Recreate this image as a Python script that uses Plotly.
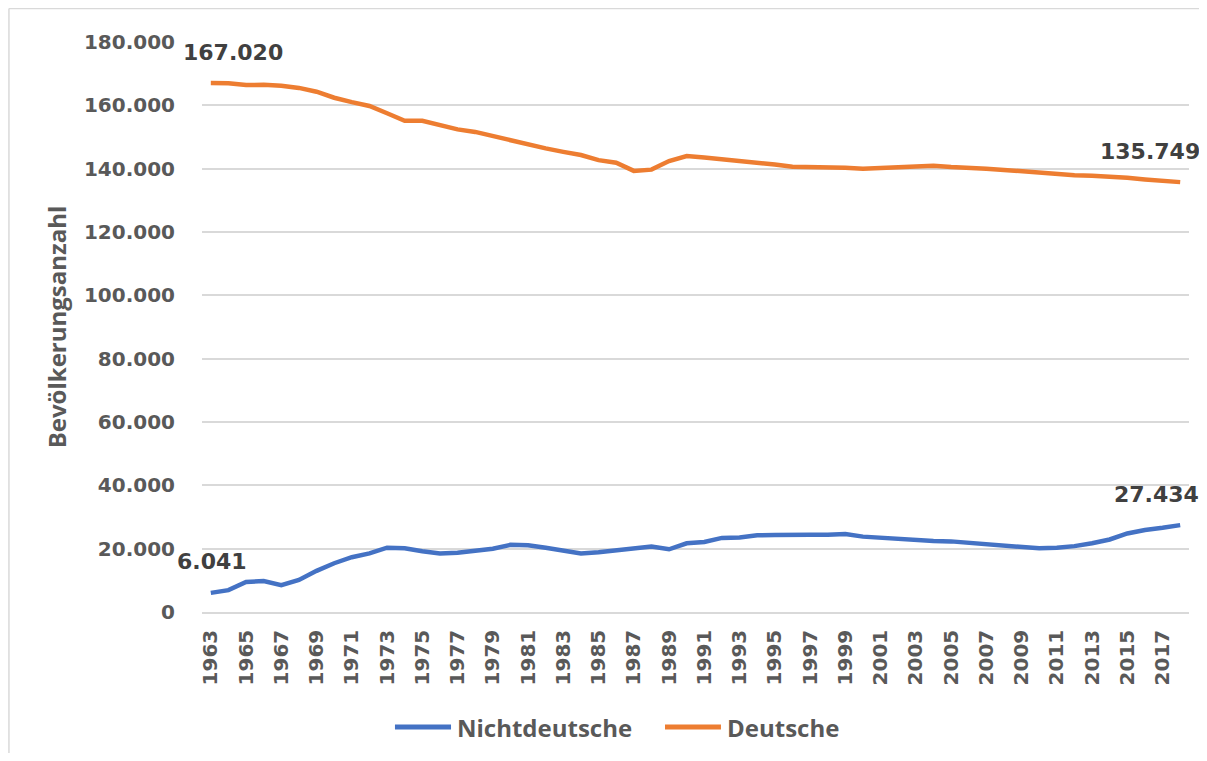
import plotly.graph_objects as go

years = list(range(1963, 2019))

deutsche = [167020, 167000, 166400, 166500, 166200, 165500, 164300, 162400, 161000, 159800,
            157500, 155100, 155100, 153600, 152400, 151600, 150300, 148800, 147700, 146400,
            145300, 144300, 142700, 141900, 139300, 139700, 142400, 144000, 143500, 143000,
            142300, 141700, 141300, 140600, 140600, 140400, 140300, 140000, 140300, 140600,
            140700, 140900, 140500, 140400, 140000, 139600, 139200, 138500, 138200, 137900,
            137800, 137600, 137100, 136600, 136100, 135749]

nichtdeutsche = [6041, 6900, 9500, 9800, 8500, 10100, 13000, 15400, 17300, 18500,
                 20300, 20100, 19200, 18500, 18700, 19200, 20000, 21200, 21100, 20300,
                 19400, 18500, 18900, 19600, 20300, 20700, 19800, 21700, 22100, 23400,
                 23500, 24200, 24300, 24500, 24400, 24400, 24600, 23800, 23400, 23100,
                 22800, 22400, 22300, 21900, 21500, 20900, 20500, 20100, 20300, 20800,
                 21700, 22900, 24800, 25900, 26600, 27434]

series_names = ["Nichtdeutsche", "Deutsche"]
y_ticks = list(range(0, 180001, 20000))
x_ticks = list(range(1963, 2018, 2))

BLUE = "#4472C4"
ORANGE = "#ED7D31"
GRAY = "#595959"
DARK = "#404040"
GRID = "#D9D9D9"
TICKFONT = dict(family="DejaVu Sans", size=20, color=GRAY, weight="bold")
LABELFONT = dict(family="Open Sans", size=24, color=GRAY, weight="bold")


def fmt(v):
    return f"{v:,}".replace(",", ".")


fig = go.Figure()
fig.add_trace(go.Scatter(x=years, y=nichtdeutsche, mode="lines", name=series_names[0],
                         line=dict(color=BLUE, width=4.5)))
fig.add_trace(go.Scatter(x=years, y=deutsche, mode="lines", name=series_names[1],
                         line=dict(color=ORANGE, width=4.5)))

# data labels on first and last points
labels = [
    (years[0], deutsche[0], 22),
    (years[-1], deutsche[-1], -30),
    (years[0], nichtdeutsche[0], 1),
    (years[-1], nichtdeutsche[-1], -24),
]
for x, y, xs in labels:
    fig.add_annotation(x=x, y=y, text=fmt(y), showarrow=False, xanchor="center",
                       yanchor="middle", xshift=xs, yshift=31,
                       font=dict(family="DejaVu Sans", size=22, color=DARK, weight="bold"))

# custom legend (line samples + labels) below the plot
legend_items = [(series_names[0], BLUE, 0.1955, 0.2523), (series_names[1], ORANGE, 0.4691, 0.5258)]
for name, col, lx0, lx1 in legend_items:
    fig.add_shape(type="line", xref="paper", yref="paper", x0=lx0, x1=lx1, y0=-0.2018, y1=-0.2018,
                  line=dict(color=col, width=5))
    fig.add_annotation(xref="paper", yref="paper", x=lx1 + 0.004, y=-0.2018, text=name,
                       showarrow=False, xanchor="left", yanchor="middle", font=LABELFONT)

# chart border (top and left edges; right/bottom fall outside the picture)
fig.add_shape(type="line", xref="paper", yref="paper", x0=-0.1956, x1=1.05, y0=1.0587, y1=1.0587,
              line=dict(color=GRID, width=1.5), layer="below")
fig.add_shape(type="line", xref="paper", yref="paper", x0=-0.1956, x1=-0.1956, y0=-0.28, y1=1.0587,
              line=dict(color=GRID, width=1.5), layer="below")

fig.update_layout(
    width=1191, height=745,
    margin=dict(l=194, r=10, t=34, b=141),
    paper_bgcolor="white", plot_bgcolor="white",
    separators=",.",
    showlegend=False,
    xaxis=dict(range=[1962.5, 2018.5], tickmode="array", tickvals=x_ticks,
               ticktext=[str(v) for v in x_ticks], tickangle=-90,
               showgrid=False, zeroline=False, showline=True, linecolor=GRID, linewidth=1.5,
               ticks="", tickfont=TICKFONT, ticklabelstandoff=8),
    yaxis=dict(range=[0, 180000], tickmode="array", tickvals=y_ticks, tickformat=",d",
               showgrid=True, gridcolor=GRID, gridwidth=1.5, zeroline=False, showline=False,
               ticks="", tickfont=TICKFONT, ticklabelstandoff=26,
               title=dict(text="Bevölkerungsanzahl", standoff=10, font=LABELFONT)),
)

fig.write_html("out.html")
